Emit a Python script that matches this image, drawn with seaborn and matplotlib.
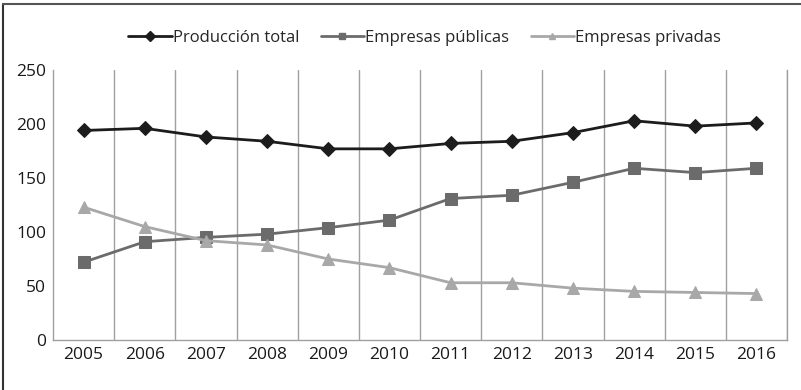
import matplotlib
matplotlib.use("Agg")
import matplotlib.pyplot as plt
import seaborn as sns
import pandas as pd
import numpy as np
from matplotlib.lines import Line2D

years = ["2005", "2006", "2007", "2008", "2009", "2010", "2011", "2012", "2013", "2014", "2015", "2016"]
total = [194, 196, 188, 184, 177, 177, 182, 184, 192, 203, 198, 201]
publicas = [72, 91, 95, 98, 104, 111, 131, 134, 146, 159, 155, 159]
privadas = [123, 105, 92, 88, 75, 67, 53, 53, 48, 45, 44, 43]
series_names = ["Producción total", "Empresas públicas", "Empresas privadas"]
colors = ["#1c1c1c", "#6b6b6b", "#a8a8a8"]
markers = ["D", "s", "^"]
yticks = [0, 50, 100, 150, 200, 250]

sns.set_theme(style="white")
plt.rcParams['font.family'] = ['Open Sans', 'DejaVu Sans']

rows = []
for name, vals in zip(series_names, [total, publicas, privadas]):
    for i, v in enumerate(vals):
        rows.append({"idx": i, "year": years[i], "value": v, "serie": name})
df = pd.DataFrame(rows)

fig = plt.figure(figsize=(8.01, 3.90), dpi=100)
ax = fig.add_axes([53/801, 1 - 340/390, (787-53)/801, (340-70)/390])

for name, c, m in zip(series_names, colors, markers):
    sub = df[df["serie"] == name]
    ms = 8 if m != "D" else 7
    sns.lineplot(data=sub, x="idx", y="value", ax=ax, color=c, marker=m,
                 markersize=ms, markeredgecolor=c, linewidth=2, label=name, legend=False)

ax.set_xlim(-0.5, 11.5)
ax.set_ylim(0, 250)
ax.set_xticks(range(len(years)))
ax.set_xticklabels(years)
ax.set_yticks(yticks)
ax.set_xlabel("")
ax.set_ylabel("")
ax.tick_params(axis="both", labelsize=12.5, colors="#1a1a1a", length=0, pad=5)
for x in np.arange(0.5, 11.6, 1.0):
    ax.axvline(x, color="#a0a0a0", linewidth=1, zorder=0)
ax.spines["top"].set_visible(False)
for s in ["left", "bottom", "right"]:
    ax.spines[s].set_color("#a0a0a0")
    ax.spines[s].set_linewidth(1)
ax.grid(False)

handles = [Line2D([0], [0], color=c, marker=m, markersize=5, linewidth=2, markeredgecolor=c)
           for c, m in zip(colors, markers)]
fig.legend(handles, series_names, loc="center", bbox_to_anchor=(0.53, 1 - 38/390), ncol=3,
           frameon=False, fontsize=12, handlelength=2.6, handletextpad=0.05, columnspacing=1.3)

# figure frame (left and top)
fig.add_artist(Line2D([3/801, 3/801], [0, 1 - 4/390], transform=fig.transFigure, color="#333333", linewidth=1.5))
fig.add_artist(Line2D([3/801, 1], [1 - 4/390, 1 - 4/390], transform=fig.transFigure, color="#555555", linewidth=1.5))

fig.savefig("out.png", dpi=100)
